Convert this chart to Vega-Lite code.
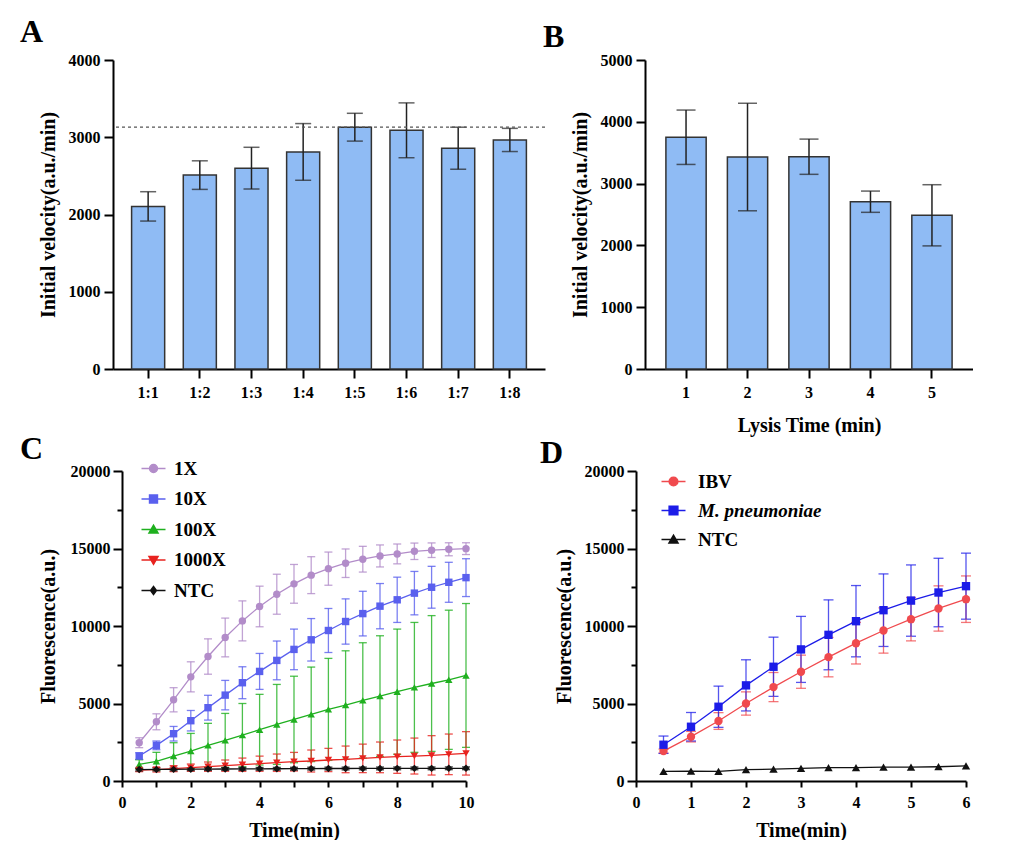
{
  "$schema": "https://vega.github.io/schema/vega-lite/v6.json",
  "padding": {"left": 20, "top": 16, "right": 0, "bottom": 0},
  "config": {
    "font": "Liberation Serif",
    "view": {"stroke": null},
    "axis": {
      "labelFont": "Liberation Serif",
      "labelFontWeight": "bold",
      "labelFontSize": 16,
      "labelColor": "#000",
      "labelFlush": false,
      "labelOverlap": false,
      "titleFont": "Liberation Serif",
      "titleFontWeight": "bold",
      "titleFontSize": 20,
      "titleColor": "#000",
      "domainColor": "#000",
      "domainWidth": 2,
      "tickColor": "#000",
      "tickWidth": 2,
      "grid": false
    },
    "title": {
      "font": "Liberation Serif",
      "fontSize": 32,
      "fontWeight": "bold",
      "color": "#000",
      "anchor": "start",
      "frame": "group",
      "baseline": "alphabetic"
    },
    "legend": {
      "orient": "none",
      "direction": "vertical",
      "title": null,
      "padding": 0,
      "labelFont": "Liberation Serif",
      "labelFontSize": 19,
      "labelFontWeight": "bold",
      "labelColor": "#000",
      "symbolSize": 64,
      "rowPadding": 10,
      "labelOffset": 12
    }
  },
  "datasets": {
    "ratio": [
      {"ratio": "1:1", "velocity": 2105, "sd": 190},
      {"ratio": "1:2", "velocity": 2510, "sd": 185},
      {"ratio": "1:3", "velocity": 2600, "sd": 270},
      {"ratio": "1:4", "velocity": 2810, "sd": 367},
      {"ratio": "1:5", "velocity": 3130, "sd": 180},
      {"ratio": "1:6", "velocity": 3090, "sd": 355},
      {"ratio": "1:7", "velocity": 2858, "sd": 272},
      {"ratio": "1:8", "velocity": 2965, "sd": 150}
    ],
    "lysis": [
      {"time": "1", "velocity": 3750, "sd": 440},
      {"time": "2", "velocity": 3430, "sd": 870},
      {"time": "3", "velocity": 3435, "sd": 285},
      {"time": "4", "velocity": 2707, "sd": 172},
      {"time": "5", "velocity": 2487, "sd": 495}
    ],
    "dilution": [
      {"time": 0.5, "group": "1X", "fluorescence": 2470, "sd": 320},
      {"time": 1.0, "group": "1X", "fluorescence": 3820, "sd": 515},
      {"time": 1.5, "group": "1X", "fluorescence": 5240, "sd": 780},
      {"time": 2.0, "group": "1X", "fluorescence": 6720, "sd": 970},
      {"time": 2.5, "group": "1X", "fluorescence": 8030, "sd": 1140},
      {"time": 3.0, "group": "1X", "fluorescence": 9260, "sd": 1250},
      {"time": 3.5, "group": "1X", "fluorescence": 10330, "sd": 1290},
      {"time": 4.0, "group": "1X", "fluorescence": 11260, "sd": 1310},
      {"time": 4.5, "group": "1X", "fluorescence": 12050, "sd": 1290},
      {"time": 5.0, "group": "1X", "fluorescence": 12720, "sd": 1250},
      {"time": 5.5, "group": "1X", "fluorescence": 13280, "sd": 1190},
      {"time": 6.0, "group": "1X", "fluorescence": 13700, "sd": 1070},
      {"time": 6.5, "group": "1X", "fluorescence": 14050, "sd": 920},
      {"time": 7.0, "group": "1X", "fluorescence": 14310, "sd": 830},
      {"time": 7.5, "group": "1X", "fluorescence": 14520, "sd": 710},
      {"time": 8.0, "group": "1X", "fluorescence": 14650, "sd": 640},
      {"time": 8.5, "group": "1X", "fluorescence": 14820, "sd": 530},
      {"time": 9.0, "group": "1X", "fluorescence": 14890, "sd": 470},
      {"time": 9.5, "group": "1X", "fluorescence": 14950, "sd": 420},
      {"time": 10.0, "group": "1X", "fluorescence": 14990, "sd": 380},
      {"time": 0.5, "group": "10X", "fluorescence": 1610, "sd": 215},
      {"time": 1.0, "group": "10X", "fluorescence": 2300, "sd": 280},
      {"time": 1.5, "group": "10X", "fluorescence": 3050, "sd": 470},
      {"time": 2.0, "group": "10X", "fluorescence": 3890, "sd": 660},
      {"time": 2.5, "group": "10X", "fluorescence": 4730, "sd": 800},
      {"time": 3.0, "group": "10X", "fluorescence": 5540, "sd": 950},
      {"time": 3.5, "group": "10X", "fluorescence": 6340, "sd": 1030},
      {"time": 4.0, "group": "10X", "fluorescence": 7070, "sd": 1160},
      {"time": 4.5, "group": "10X", "fluorescence": 7780, "sd": 1250},
      {"time": 5.0, "group": "10X", "fluorescence": 8490, "sd": 1310},
      {"time": 5.5, "group": "10X", "fluorescence": 9110, "sd": 1370},
      {"time": 6.0, "group": "10X", "fluorescence": 9710, "sd": 1420},
      {"time": 6.5, "group": "10X", "fluorescence": 10290, "sd": 1460},
      {"time": 7.0, "group": "10X", "fluorescence": 10800, "sd": 1440},
      {"time": 7.5, "group": "10X", "fluorescence": 11280, "sd": 1460},
      {"time": 8.0, "group": "10X", "fluorescence": 11690, "sd": 1460},
      {"time": 8.5, "group": "10X", "fluorescence": 12120, "sd": 1400},
      {"time": 9.0, "group": "10X", "fluorescence": 12500, "sd": 1350},
      {"time": 9.5, "group": "10X", "fluorescence": 12820, "sd": 1290},
      {"time": 10.0, "group": "10X", "fluorescence": 13120, "sd": 1220},
      {"time": 0.5, "group": "100X", "fluorescence": 1070, "sd": 300},
      {"time": 1.0, "group": "100X", "fluorescence": 1270, "sd": 580},
      {"time": 1.5, "group": "100X", "fluorescence": 1610, "sd": 860},
      {"time": 2.0, "group": "100X", "fluorescence": 1930, "sd": 1140},
      {"time": 2.5, "group": "100X", "fluorescence": 2300, "sd": 1420},
      {"time": 3.0, "group": "100X", "fluorescence": 2620, "sd": 1740},
      {"time": 3.5, "group": "100X", "fluorescence": 2960, "sd": 2040},
      {"time": 4.0, "group": "100X", "fluorescence": 3310, "sd": 2280},
      {"time": 4.5, "group": "100X", "fluorescence": 3650, "sd": 2580},
      {"time": 5.0, "group": "100X", "fluorescence": 3970, "sd": 2790},
      {"time": 5.5, "group": "100X", "fluorescence": 4300, "sd": 3050},
      {"time": 6.0, "group": "100X", "fluorescence": 4620, "sd": 3290},
      {"time": 6.5, "group": "100X", "fluorescence": 4900, "sd": 3500},
      {"time": 7.0, "group": "100X", "fluorescence": 5200, "sd": 3720},
      {"time": 7.5, "group": "100X", "fluorescence": 5480, "sd": 3890},
      {"time": 8.0, "group": "100X", "fluorescence": 5760, "sd": 4040},
      {"time": 8.5, "group": "100X", "fluorescence": 6040, "sd": 4190},
      {"time": 9.0, "group": "100X", "fluorescence": 6290, "sd": 4380},
      {"time": 9.5, "group": "100X", "fluorescence": 6530, "sd": 4490},
      {"time": 10.0, "group": "100X", "fluorescence": 6810, "sd": 4640},
      {"time": 0.5, "group": "1000X", "fluorescence": 710, "sd": 107},
      {"time": 1.0, "group": "1000X", "fluorescence": 730, "sd": 150},
      {"time": 1.5, "group": "1000X", "fluorescence": 795, "sd": 190},
      {"time": 2.0, "group": "1000X", "fluorescence": 860, "sd": 236},
      {"time": 2.5, "group": "1000X", "fluorescence": 925, "sd": 300},
      {"time": 3.0, "group": "1000X", "fluorescence": 990, "sd": 365},
      {"time": 3.5, "group": "1000X", "fluorescence": 1050, "sd": 430},
      {"time": 4.0, "group": "1000X", "fluorescence": 1115, "sd": 490},
      {"time": 4.5, "group": "1000X", "fluorescence": 1180, "sd": 560},
      {"time": 5.0, "group": "1000X", "fluorescence": 1245, "sd": 600},
      {"time": 5.5, "group": "1000X", "fluorescence": 1290, "sd": 710},
      {"time": 6.0, "group": "1000X", "fluorescence": 1355, "sd": 750},
      {"time": 6.5, "group": "1000X", "fluorescence": 1395, "sd": 860},
      {"time": 7.0, "group": "1000X", "fluorescence": 1460, "sd": 920},
      {"time": 7.5, "group": "1000X", "fluorescence": 1525, "sd": 990},
      {"time": 8.0, "group": "1000X", "fluorescence": 1570, "sd": 1075},
      {"time": 8.5, "group": "1000X", "fluorescence": 1610, "sd": 1160},
      {"time": 9.0, "group": "1000X", "fluorescence": 1655, "sd": 1270},
      {"time": 9.5, "group": "1000X", "fluorescence": 1720, "sd": 1310},
      {"time": 10.0, "group": "1000X", "fluorescence": 1783, "sd": 1400},
      {"time": 0.5, "group": "NTC", "fluorescence": 740, "sd": 90},
      {"time": 1.0, "group": "NTC", "fluorescence": 745, "sd": 90},
      {"time": 1.5, "group": "NTC", "fluorescence": 750, "sd": 90},
      {"time": 2.0, "group": "NTC", "fluorescence": 760, "sd": 90},
      {"time": 2.5, "group": "NTC", "fluorescence": 770, "sd": 90},
      {"time": 3.0, "group": "NTC", "fluorescence": 775, "sd": 90},
      {"time": 3.5, "group": "NTC", "fluorescence": 780, "sd": 90},
      {"time": 4.0, "group": "NTC", "fluorescence": 785, "sd": 90},
      {"time": 4.5, "group": "NTC", "fluorescence": 790, "sd": 90},
      {"time": 5.0, "group": "NTC", "fluorescence": 795, "sd": 90},
      {"time": 5.5, "group": "NTC", "fluorescence": 800, "sd": 90},
      {"time": 6.0, "group": "NTC", "fluorescence": 805, "sd": 90},
      {"time": 6.5, "group": "NTC", "fluorescence": 805, "sd": 90},
      {"time": 7.0, "group": "NTC", "fluorescence": 810, "sd": 90},
      {"time": 7.5, "group": "NTC", "fluorescence": 810, "sd": 90},
      {"time": 8.0, "group": "NTC", "fluorescence": 815, "sd": 90},
      {"time": 8.5, "group": "NTC", "fluorescence": 815, "sd": 90},
      {"time": 9.0, "group": "NTC", "fluorescence": 815, "sd": 90},
      {"time": 9.5, "group": "NTC", "fluorescence": 820, "sd": 90},
      {"time": 10.0, "group": "NTC", "fluorescence": 820, "sd": 90}
    ],
    "pathogen": [
      {"time": 0.5, "target": "IBV", "fluorescence": 1930, "sd": 130},
      {"time": 1.0, "target": "IBV", "fluorescence": 2860, "sd": 340},
      {"time": 1.5, "target": "IBV", "fluorescence": 3870, "sd": 540},
      {"time": 2.0, "target": "IBV", "fluorescence": 5000, "sd": 750},
      {"time": 2.5, "target": "IBV", "fluorescence": 6060, "sd": 940},
      {"time": 3.0, "target": "IBV", "fluorescence": 7050, "sd": 1070},
      {"time": 3.5, "target": "IBV", "fluorescence": 7990, "sd": 1270},
      {"time": 4.0, "target": "IBV", "fluorescence": 8890, "sd": 1340},
      {"time": 4.5, "target": "IBV", "fluorescence": 9710, "sd": 1460},
      {"time": 5.0, "target": "IBV", "fluorescence": 10440, "sd": 1400},
      {"time": 5.5, "target": "IBV", "fluorescence": 11130, "sd": 1460},
      {"time": 6.0, "target": "IBV", "fluorescence": 11730, "sd": 1500},
      {"time": 0.5, "target": "M. pneumoniae", "fluorescence": 2340, "sd": 560},
      {"time": 1.0, "target": "M. pneumoniae", "fluorescence": 3500, "sd": 920},
      {"time": 1.5, "target": "M. pneumoniae", "fluorescence": 4790, "sd": 1330},
      {"time": 2.0, "target": "M. pneumoniae", "fluorescence": 6170, "sd": 1650},
      {"time": 2.5, "target": "M. pneumoniae", "fluorescence": 7370, "sd": 1910},
      {"time": 3.0, "target": "M. pneumoniae", "fluorescence": 8490, "sd": 2130},
      {"time": 3.5, "target": "M. pneumoniae", "fluorescence": 9430, "sd": 2255},
      {"time": 4.0, "target": "M. pneumoniae", "fluorescence": 10310, "sd": 2300},
      {"time": 4.5, "target": "M. pneumoniae", "fluorescence": 11020, "sd": 2340},
      {"time": 5.0, "target": "M. pneumoniae", "fluorescence": 11640, "sd": 2300},
      {"time": 5.5, "target": "M. pneumoniae", "fluorescence": 12160, "sd": 2210},
      {"time": 6.0, "target": "M. pneumoniae", "fluorescence": 12570, "sd": 2130},
      {"time": 0.5, "target": "NTC", "fluorescence": 620, "sd": 0},
      {"time": 1.0, "target": "NTC", "fluorescence": 640, "sd": 0},
      {"time": 1.5, "target": "NTC", "fluorescence": 620, "sd": 0},
      {"time": 2.0, "target": "NTC", "fluorescence": 730, "sd": 0},
      {"time": 2.5, "target": "NTC", "fluorescence": 770, "sd": 0},
      {"time": 3.0, "target": "NTC", "fluorescence": 820, "sd": 0},
      {"time": 3.5, "target": "NTC", "fluorescence": 860, "sd": 0},
      {"time": 4.0, "target": "NTC", "fluorescence": 860, "sd": 0},
      {"time": 4.5, "target": "NTC", "fluorescence": 900, "sd": 0},
      {"time": 5.0, "target": "NTC", "fluorescence": 900, "sd": 0},
      {"time": 5.5, "target": "NTC", "fluorescence": 920, "sd": 0},
      {"time": 6.0, "target": "NTC", "fluorescence": 970, "sd": 0}
    ]
  },
  "resolve": {"scale": {"color": "independent", "shape": "independent"}, "legend": {"color": "independent", "shape": "independent"}},
  "columns": 1,
  "spacing": {"row": -2, "column": 0},
  "concat": [
    {
      "spacing": -3,
      "resolve": {"scale": {"color": "independent", "shape": "independent"}},
      "hconcat": [
        {
          "title": {"text": "A", "dx": -93, "offset": 3},
          "width": 432,
          "height": 309,
          "data": {"name": "ratio"},
          "layer": [
            {
              "mark": {"type": "bar", "fill": "#8fbbf4", "stroke": "#333", "strokeWidth": 1.5},
              "encoding": {
                "x": {
                  "field": "ratio", "type": "nominal", "sort": null,
                  "scale": {"paddingInner": 0.36, "paddingOuter": 0.36},
                  "axis": {"title": null, "labelAngle": 0, "tickSize": 9, "labelPadding": 6}
                },
                "y": {
                  "field": "velocity", "type": "quantitative",
                  "title": "Initial velocity(a.u./min)",
                  "scale": {"domain": [0, 4000], "nice": false},
                  "axis": {
                    "titlePadding": 10,
                    "format": "d",
                    "values": [0, 500, 1000, 1500, 2000, 2500, 3000, 3500, 4000],
                    "labelExpr": "datum.value % 1000 === 0 ? datum.label : ''",
                    "tickSize": {"condition": {"test": "datum.value % 1000 !== 0", "value": 5}, "value": 9},
                    "labelPadding": 4
                  }
                }
              }
            },
            {
              "mark": {"type": "errorbar", "ticks": true, "size": 16, "thickness": 1.5, "color": "#222"},
              "encoding": {
                "x": {"field": "ratio", "type": "nominal", "sort": null, "title": null},
                "y": {"field": "velocity", "type": "quantitative", "title": "Initial velocity(a.u./min)"},
                "yError": {"field": "sd"}
              }
            },
            {
              "transform": [{"filter": "datum.ratio === '1:5'"}],
              "mark": {"type": "rule", "strokeDash": [3, 3], "color": "#555", "strokeWidth": 1.3},
              "encoding": {"y": {"field": "velocity", "type": "quantitative", "title": "Initial velocity(a.u./min)"}}
            }
          ]
        },
        {
          "title": {"text": "B", "dx": -102, "offset": -2},
          "width": 328,
          "height": 309,
          "data": {"name": "lysis"},
          "layer": [
            {
              "mark": {"type": "bar", "fill": "#8fbbf4", "stroke": "#333", "strokeWidth": 1.5},
              "encoding": {
                "x": {
                  "field": "time", "type": "nominal", "sort": null,
                  "title": "Lysis Time (min)",
                  "scale": {"paddingInner": 0.345, "paddingOuter": 0.34},
                  "axis": {"titlePadding": 15, "labelAngle": 0, "tickSize": 9, "labelPadding": 6}
                },
                "y": {
                  "field": "velocity", "type": "quantitative",
                  "title": "Initial velocity(a.u./min)",
                  "scale": {"domain": [0, 5000], "nice": false},
                  "axis": {
                    "titlePadding": 10,
                    "format": "d",
                    "values": [0, 1000, 2000, 3000, 4000, 5000],
                    "tickSize": 9,
                    "labelPadding": 4
                  }
                }
              }
            },
            {
              "mark": {"type": "errorbar", "ticks": true, "size": 19, "thickness": 1.5, "color": "#222"},
              "encoding": {
                "x": {"field": "time", "type": "nominal", "sort": null, "title": "Lysis Time (min)"},
                "y": {"field": "velocity", "type": "quantitative", "title": "Initial velocity(a.u./min)"},
                "yError": {"field": "sd"}
              }
            }
          ]
        }
      ]
    },
    {
      "spacing": 66,
      "resolve": {"scale": {"color": "independent", "shape": "independent"}, "legend": {"color": "independent", "shape": "independent"}},
      "hconcat": [
        {
          "title": {"text": "C", "dx": -93, "offset": -7},
          "width": 353,
          "height": 310,
          "data": {"name": "dilution"},
          "encoding": {
            "x": {
              "field": "time", "type": "quantitative",
              "scale": {"domain": [0, 10], "nice": false, "rangeMin": 9},
              "axis": {
                "title": "Time(min)", "titlePadding": 10, "format": "d",
                "values": [0, 1, 2, 3, 4, 5, 6, 7, 8, 9, 10],
                "labelExpr": "datum.value % 2 === 0 ? datum.label : ''",
                "tickSize": 6, "labelPadding": 7
              }
            },
            "y": {
              "field": "fluorescence", "type": "quantitative",
              "scale": {"domain": [0, 20000], "nice": false},
              "axis": {
                "title": "Fluorescence(a.u.)", "titlePadding": 12, "format": "d",
                "offset": -9,
                "values": [0, 2500, 5000, 7500, 10000, 12500, 15000, 17500, 20000],
                "labelExpr": "datum.value % 5000 === 0 ? datum.label : ''",
                "tickSize": {"condition": {"test": "datum.value % 5000 !== 0", "value": 5}, "value": 9},
                "labelPadding": 3
              }
            },
            "color": {
              "field": "group", "type": "nominal",
              "scale": {
                "domain": ["1X", "10X", "100X", "1000X", "NTC"],
                "range": ["#b28cc9", "#5a60ee", "#1fb01f", "#e8231f", "#111111"]
              },
              "legend": {
                "legendX": 31,
                "legendY": -12,
                "rowPadding": 10.5,
                "labelOffset": 11,
                "encode": {
                  "symbols": {
                    "update": {
                      "shape": {"signal": "datum.value === '1X' ? 'M-3,0H3M1,0A1,1,0,1,1,-1,0A1,1,0,1,1,1,0Z' : datum.value === '10X' ? 'M-3,0H3M-1,-1H1V1H-1Z' : datum.value === '100X' ? 'M-3,0H3M0,-1.1L1.15,0.9H-1.15Z' : datum.value === '1000X' ? 'M-3,0H3M0,1.1L1.15,-0.9H-1.15Z' : 'M-3,0H3M0,-1L0.75,0L0,1L-0.75,0Z'"},
                      "fill": {"signal": "datum.value === '1X' ? '#b28cc9' : datum.value === '10X' ? '#5a60ee' : datum.value === '100X' ? '#1fb01f' : datum.value === '1000X' ? '#e8231f' : '#111111'"},
                      "stroke": {"signal": "datum.value === '1X' ? '#b28cc9' : datum.value === '10X' ? '#5a60ee' : datum.value === '100X' ? '#1fb01f' : datum.value === '1000X' ? '#e8231f' : '#111111'"},
                      "strokeWidth": {"value": 1.4},
                      "opacity": {"value": 1}
                    }
                  }
                }
              }
            }
          },
          "layer": [
            {
              "mark": {"type": "errorbar", "ticks": true, "size": 8, "thickness": 1.3, "opacity": 0.8},
              "encoding": {"yError": {"field": "sd"}}
            },
            {"mark": {"type": "line", "strokeWidth": 1.3}},
            {
              "mark": {"type": "point", "filled": true, "size": 55, "opacity": 1},
              "encoding": {
                "shape": {
                  "field": "group", "type": "nominal",
                  "scale": {"range": ["triangle-down", "triangle-up", "square", "circle", "diamond"]},
                  "legend": null
                }
              }
            }
          ]
        },
        {
          "title": {"text": "D", "dx": -96, "offset": -7},
          "width": 330,
          "height": 310,
          "data": {"name": "pathogen"},
          "encoding": {
            "x": {
              "field": "time", "type": "quantitative",
              "scale": {"domain": [0, 6], "nice": false},
              "axis": {
                "title": "Time(min)", "titlePadding": 10, "format": "d",
                "values": [0, 0.5, 1, 1.5, 2, 2.5, 3, 3.5, 4, 4.5, 5, 5.5, 6],
                "labelExpr": "datum.value % 1 === 0 ? datum.label : ''",
                "tickSize": 6, "labelPadding": 7
              }
            },
            "y": {
              "field": "fluorescence", "type": "quantitative",
              "scale": {"domain": [0, 20000], "nice": false},
              "axis": {
                "title": "Fluorescence(a.u.)", "titlePadding": 10, "format": "d",
                "values": [0, 2500, 5000, 7500, 10000, 12500, 15000, 17500, 20000],
                "labelExpr": "datum.value % 5000 === 0 ? datum.label : ''",
                "tickSize": {"condition": {"test": "datum.value % 5000 !== 0", "value": 5}, "value": 9},
                "labelPadding": 3
              }
            },
            "color": {
              "field": "target", "type": "nominal",
              "scale": {
                "domain": ["IBV", "M. pneumoniae", "NTC"],
                "range": ["#f04a4e", "#1c1ce8", "#111111"]
              },
              "legend": {
                "legendX": 28,
                "legendY": 1,
                "rowPadding": 9,
                "labelOffset": 15,
                "encode": {
                  "symbols": {
                    "update": {
                      "shape": {"signal": "datum.value === 'IBV' ? 'M-3,0H3M1.1,0A1.1,1.1,0,1,1,-1.1,0A1.1,1.1,0,1,1,1.1,0Z' : datum.value === 'M. pneumoniae' ? 'M-3,0H3M-1.1,-1.1H1.1V1.1H-1.1Z' : 'M-3,0H3M0,-1.1L1.15,0.9H-1.15Z'"},
                      "fill": {"signal": "datum.value === 'IBV' ? '#f04a4e' : datum.value === 'M. pneumoniae' ? '#1c1ce8' : '#111111'"},
                      "stroke": {"signal": "datum.value === 'IBV' ? '#f04a4e' : datum.value === 'M. pneumoniae' ? '#1c1ce8' : '#111111'"},
                      "strokeWidth": {"value": 1.4},
                      "opacity": {"value": 1}
                    }
                  },
                  "labels": {
                    "update": {
                      "fontStyle": {"signal": "datum.value === 'M. pneumoniae' ? 'italic' : 'normal'"}
                    }
                  }
                }
              }
            }
          },
          "layer": [
            {
              "transform": [{"filter": "datum.sd > 0"}],
              "mark": {"type": "errorbar", "ticks": true, "size": 10, "thickness": 1.3, "opacity": 0.75},
              "encoding": {"yError": {"field": "sd"}}
            },
            {"mark": {"type": "line", "strokeWidth": 1.3}},
            {
              "mark": {"type": "point", "filled": true, "size": 70, "opacity": 1},
              "encoding": {
                "shape": {
                  "field": "target", "type": "nominal",
                  "scale": {"range": ["circle", "square", "triangle-up"]},
                  "legend": null
                }
              }
            }
          ]
        }
      ]
    }
  ]
}
